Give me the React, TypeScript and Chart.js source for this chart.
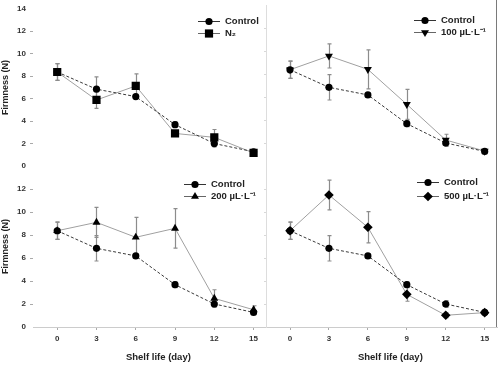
import { useEffect, useRef } from 'react';
import { Chart, registerables } from 'chart.js';

Chart.register(...registerables);

// ---------- data ----------
const days = [0, 3, 6, 9, 12, 15];
const firmnessTicks = [0, 2, 4, 6, 8, 10, 12, 14];

const controlLabel = 'Control';
const controlFirmness = [8.37, 6.84, 6.18, 3.68, 2.0, 1.27];
const controlErr = [0.75, 1.1, 0.2, 0.25, 0.3, 0.1];

const n2Label = 'N₂';
const n2Firmness = [8.37, 5.88, 7.13, 2.9, 2.55, 1.16];
const n2Err = [0.75, 0.75, 1.07, 0.1, 0.7, 0.1];

const t100Label = '100 µL·L⁻¹';
const t100Firmness = [8.37, 9.57, 8.4, 5.36, 2.26, 1.3];
const t100Err = [0.75, 1.05, 1.7, 1.3, 0.5, 0.1];

const t200Label = '200 µL·L⁻¹';
const t200Firmness = [8.37, 9.1, 7.8, 8.58, 2.49, 1.5];
const t200Err = [0.75, 1.3, 1.74, 1.72, 0.75, 0.35];

const t500Label = '500 µL·L⁻¹';
const t500Firmness = [8.37, 11.48, 8.67, 2.84, 1.02, 1.25];
const t500Err = [0.75, 1.3, 1.36, 0.6, 0.2, 0.1];

const xTitle = 'Shelf life (day)';
const yTitle = 'Firmness (N)';

// ---------- styling ----------
const FONT = "'Liberation Sans', Arial, Helvetica, sans-serif";
const W = 500;
const H = 365;

type PanelCfg = {
  label: string;
  values: number[];
  errors: number[];
  style: string;
  rotation: number;
  radius: number;
  left: boolean;
  top: boolean;
  legend: { x: number; y: number; gap: number };
};

const panels: PanelCfg[] = [
  { label: n2Label, values: n2Firmness, errors: n2Err, style: 'rect', rotation: 0, radius: 5.8, left: true, top: true, legend: { x: 198, y: 20.5, gap: 12.5 } },
  { label: t100Label, values: t100Firmness, errors: t100Err, style: 'triangle', rotation: 180, radius: 4.6, left: false, top: true, legend: { x: 414, y: 19.5, gap: 12.5 } },
  { label: t200Label, values: t200Firmness, errors: t200Err, style: 'triangle', rotation: 0, radius: 4.6, left: true, top: false, legend: { x: 184, y: 183.5, gap: 12.5 } },
  { label: t500Label, values: t500Firmness, errors: t500Err, style: 'rectRot', rotation: 0, radius: 4.8, left: false, top: false, legend: { x: 417, y: 182, gap: 13.5 } },
];

function drawMarker(ctx: CanvasRenderingContext2D, style: string, rotation: number, r: number, x: number, y: number) {
  ctx.beginPath();
  if (style === 'circle') {
    ctx.arc(x, y, r, 0, Math.PI * 2);
  } else if (style === 'rect') {
    const s = r * Math.SQRT1_2;
    ctx.rect(x - s, y - s, 2 * s, 2 * s);
  } else if (style === 'rectRot') {
    ctx.moveTo(x - r, y);
    ctx.lineTo(x, y - r);
    ctx.lineTo(x + r, y);
    ctx.lineTo(x, y + r);
    ctx.closePath();
  } else if (style === 'triangle') {
    let a = (rotation * Math.PI) / 180;
    ctx.moveTo(x + Math.sin(a) * r, y - Math.cos(a) * r);
    a += (2 * Math.PI) / 3;
    ctx.lineTo(x + Math.sin(a) * r, y - Math.cos(a) * r);
    a += (2 * Math.PI) / 3;
    ctx.lineTo(x + Math.sin(a) * r, y - Math.cos(a) * r);
    ctx.closePath();
  }
  ctx.fill();
}

const errorBarPlugin = {
  id: 'errorBars',
  beforeDatasetsDraw(chart: any, _args: any, opts: any) {
    const { ctx } = chart;
    const xs = chart.scales.x;
    const ys = chart.scales.y;
    ctx.save();
    ctx.strokeStyle = opts.color;
    ctx.lineWidth = opts.width;
    chart.data.datasets.forEach((ds: any, di: number) => {
      const errs: number[] = opts.errors[di];
      ds.data.forEach((pt: any, i: number) => {
        const e = errs[i];
        if (!e) return;
        const x = Math.round(xs.getPixelForValue(pt.x)) + 0.5;
        const y1 = ys.getPixelForValue(pt.y + e);
        const y2 = ys.getPixelForValue(pt.y - e);
        ctx.beginPath();
        ctx.moveTo(x, y1);
        ctx.lineTo(x, y2);
        ctx.moveTo(x - opts.cap, y1);
        ctx.lineTo(x + opts.cap, y1);
        ctx.moveTo(x - opts.cap, y2);
        ctx.lineTo(x + opts.cap, y2);
        ctx.stroke();
      });
    });
    ctx.restore();
  },
};

const panelLegendPlugin = {
  id: 'panelLegend',
  afterDraw(chart: any, _args: any, opts: any) {
    const { ctx } = chart;
    ctx.save();
    chart.data.datasets.forEach((ds: any, di: number) => {
      const y = opts.y + di * opts.gap;
      ctx.strokeStyle = opts.lineColors[di];
      ctx.lineWidth = 1;
      ctx.setLineDash([]);
      ctx.beginPath();
      ctx.moveTo(opts.x, Math.round(y) + 0.5);
      ctx.lineTo(opts.x + opts.len, Math.round(y) + 0.5);
      ctx.stroke();
      ctx.fillStyle = '#000';
      drawMarker(ctx, ds.pointStyle, ds.pointRotation || 0, ds.pointRadius, opts.x + opts.len / 2, Math.round(y) + 0.5);
      ctx.fillStyle = '#222';
      ctx.font = `bold 9.5px ${FONT}`;
      ctx.textBaseline = 'middle';
      ctx.textAlign = 'left';
      ctx.fillText(ds.label, opts.x + opts.len + 5, y + 0.5);
    });
    ctx.restore();
  },
};

const frameTitlePlugin = {
  id: 'frameTitle',
  afterDraw(chart: any, _args: any, opts: any) {
    const { ctx, chartArea } = chart;
    ctx.save();
    if (opts.rightEdge) {
      ctx.strokeStyle = '#7a7a7a';
      ctx.lineWidth = 1;
      const x = Math.round(chartArea.right) - 0.5;
      ctx.beginPath();
      ctx.moveTo(x, chartArea.top - opts.extendTop);
      ctx.lineTo(x, chartArea.bottom);
      ctx.stroke();
    }
    if (opts.xTitle) {
      const xs = chart.scales.x;
      const mid = (xs.getPixelForValue(days[0]) + xs.getPixelForValue(days[days.length - 1])) / 2;
      ctx.fillStyle = '#222';
      ctx.font = `bold 9.5px ${FONT}`;
      ctx.textAlign = 'center';
      ctx.textBaseline = 'middle';
      ctx.fillText(opts.xTitle, mid + 3, xs.bottom - 6);
    }
    ctx.restore();
  },
};

function makeConfig(p: PanelCfg): any {
  const areaLeft = p.left ? 33 : 266;
  const areaRight = p.left ? 266 : 497;
  const areaTop = p.top ? 5 : 166;
  const areaBottom = p.top ? 166 : 327;
  const yWidth = p.left ? 32.5 : 2;
  const xHeight = p.top ? 0 : 36;

  const tickFont = { family: FONT, size: 8, weight: 'bold' };

  return {
    type: 'line',
    data: {
      datasets: [
        {
          label: controlLabel,
          data: days.map((d, i) => ({ x: d, y: controlFirmness[i] })),
          borderColor: '#3a3a3a',
          borderWidth: 1,
          borderDash: [3, 2],
          pointStyle: 'circle',
          pointRadius: 3.6,
          pointBorderWidth: 0,
          pointBackgroundColor: '#000',
          pointBorderColor: '#000',
          tension: 0,
          fill: false,
        },
        {
          label: p.label,
          data: days.map((d, i) => ({ x: d, y: p.values[i] })),
          borderColor: '#a0a0a0',
          borderWidth: 1,
          pointStyle: p.style,
          pointRotation: p.rotation,
          pointRadius: p.radius,
          pointBorderWidth: 0,
          pointBackgroundColor: '#000',
          pointBorderColor: '#000',
          tension: 0,
          fill: false,
        },
      ],
    },
    options: {
      responsive: false,
      animation: false,
      devicePixelRatio: 1,
      events: [],
      layout: {
        autoPadding: false,
        padding: {
          left: areaLeft - yWidth,
          right: W - areaRight,
          top: areaTop,
          bottom: H - areaBottom - xHeight,
        },
      },
      scales: {
        x: {
          type: 'linear',
          min: -1.85,
          max: 15.95,
          display: !p.top,
          afterBuildTicks: (s: any) => {
            s.ticks = days.map((v) => ({ value: v }));
          },
          afterFit: (s: any) => {
            s.height = xHeight;
          },
          grid: { drawOnChartArea: false, drawTicks: true, tickLength: 3, color: '#aaaaaa' },
          border: { display: true, color: '#cccccc', width: 1 },
          ticks: { font: tickFont, color: '#333', padding: 4, maxRotation: 0, autoSkip: false },
        },
        y: {
          type: 'linear',
          min: 0,
          max: 14,
          afterBuildTicks: (s: any) => {
            s.ticks = firmnessTicks.map((v) => ({ value: v }));
          },
          afterFit: (s: any) => {
            s.width = yWidth;
          },
          grid: {
            drawOnChartArea: false,
            drawTicks: true,
            tickLength: p.left ? 3 : 2,
            color: (ctx: any) =>
              ctx.tick && (ctx.tick.value === 0 || ctx.tick.value === 14)
                ? 'rgba(0,0,0,0)'
                : p.left
                ? '#aaaaaa'
                : '#d8d8d8',
          },
          border: { display: !p.left, color: '#dddddd', width: 1 },
          ticks: {
            display: p.left,
            font: tickFont,
            color: '#333',
            padding: 4,
            callback: (v: any) => (!p.top && v === 14 ? '' : String(v)),
          },
          title: {
            display: p.left,
            text: yTitle,
            font: { family: FONT, size: 9, weight: 'bold' },
            color: '#222',
            padding: 0,
          },
        },
      },
      plugins: {
        legend: { display: false },
        tooltip: { enabled: false },
        errorBars: { errors: [controlErr, p.errors], color: '#8c8c8c', width: 1.2, cap: 2 },
        panelLegend: { x: p.legend.x, y: p.legend.y, gap: p.legend.gap, len: 22, lineColors: ['#333', '#666'] },
        frameTitle: { rightEdge: !p.left, extendTop: p.top ? 5 : 0, xTitle: p.top ? '' : xTitle },
      },
    },
    plugins: [errorBarPlugin, panelLegendPlugin, frameTitlePlugin],
  };
}

function PanelChart({ cfg }: { cfg: PanelCfg }) {
  const ref = useRef<HTMLCanvasElement>(null);
  useEffect(() => {
    if (!ref.current) return;
    const chart = new Chart(ref.current, makeConfig(cfg));
    return () => chart.destroy();
  }, [cfg]);
  return (
    <canvas
      ref={ref}
      width={W}
      height={H}
      style={{ position: 'absolute', left: 0, top: 0, width: W, height: H }}
    />
  );
}

export default function App() {
  return (
    <div style={{ position: 'absolute', left: 0, top: 0, width: W, height: H, background: '#fff', overflow: 'hidden' }}>
      {panels.map((p, i) => (
        <PanelChart key={i} cfg={p} />
      ))}
    </div>
  );
}
